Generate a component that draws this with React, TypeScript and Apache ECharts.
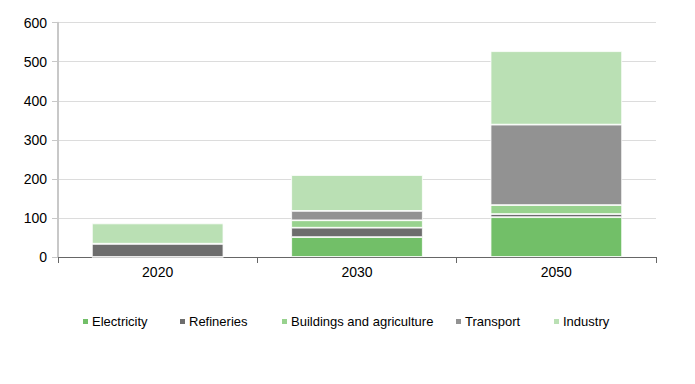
import React, { useEffect, useRef } from "react";
import * as echarts from "echarts";

const categories = ["2020", "2030", "2050"];
const electricity = [0, 51, 102];
const refineries = [34, 24, 8];
const buildings = [0, 19, 23];
const transport = [0, 24, 206];
const industry = [52, 92, 188];

const seriesNames = ["Electricity", "Refineries", "Buildings and agriculture", "Transport", "Industry"];
const seriesData = [electricity, refineries, buildings, transport, industry];
const colors = ["#72BF68", "#6D6D6D", "#98D28E", "#929292", "#BAE0B4"];
const legendLefts = [76, 173, 275, 449, 547];

const FONT = "'Liberation Sans Narrow', 'Arial Narrow', 'Liberation Sans', Arial, sans-serif";

export default function App() {
  const ref = useRef<HTMLDivElement>(null);
  useEffect(() => {
    if (!ref.current) return;
    const chart = echarts.init(ref.current, undefined, { renderer: "svg" });
    chart.setOption({
      animation: false,
      textStyle: { fontFamily: FONT },
      grid: { left: 58, right: 39, top: 22.7, bottom: 127 },
      legend: seriesNames.map((n, i) => ({
        data: [n],
        left: legendLefts[i],
        top: 310,
        icon: "rect",
        itemWidth: 7,
        itemHeight: 7,
        textStyle: { fontFamily: FONT, fontSize: 13, color: "#000", padding: [0, 0, 0, -2] },
        selectedMode: false,
      })),
      xAxis: {
        type: "category",
        data: categories,
        axisLine: { lineStyle: { color: "#666666", width: 1 } },
        axisTick: { show: true, length: 6, alignWithLabel: false, lineStyle: { color: "#666666" } },
        axisLabel: { color: "#000", fontSize: 14, fontFamily: FONT, margin: 8 },
      },
      yAxis: {
        type: "value",
        min: 0,
        max: 600,
        interval: 100,
        axisLine: { show: true, lineStyle: { color: "#C8C8C8", width: 2 } },
        axisTick: { show: true, length: 6, lineStyle: { color: "#C8C8C8" } },
        axisLabel: { color: "#000", fontSize: 14, fontFamily: FONT, margin: 11 },
        splitLine: { lineStyle: { color: "#DCDCDC", width: 1 } },
      },
      series: seriesNames.map((n, i) => ({
        name: n,
        type: "bar",
        stack: "total",
        data: seriesData[i],
        barCategoryGap: "34%",
        itemStyle: { color: colors[i], borderColor: "#FFFFFF", borderWidth: 0.8 },
      })),
    });
    return () => chart.dispose();
  }, []);
  return <div ref={ref} style={{ width: 695, height: 384, margin: -8 }} />;
}
